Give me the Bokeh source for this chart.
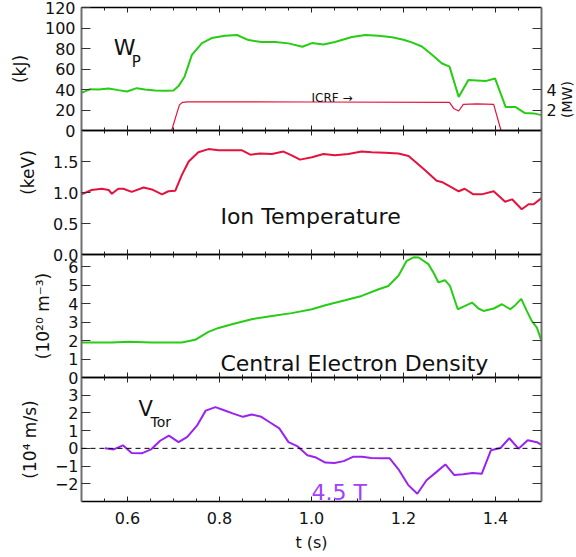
from math import pi
from bokeh.plotting import figure
from bokeh.models import (Range1d, LinearAxis, FixedTicker, SingleIntervalTicker,
                          PrintfTickFormatter, Label, Span, CustomLabelingPolicy)
from bokeh.layouts import column
from bokeh.embed import file_html
from bokeh.resources import INLINE

# ---------------- data ----------------
t_wp = [0.500, 0.519, 0.537, 0.559, 0.580, 0.599, 0.620, 0.638, 0.660, 0.682,
        0.700, 0.711, 0.724, 0.740, 0.762, 0.783, 0.812, 0.838, 0.863, 0.892,
        0.921, 0.950, 0.980, 1.001, 1.026, 1.051, 1.088, 1.117, 1.146, 1.175,
        1.200, 1.218, 1.240, 1.262, 1.283, 1.300, 1.320, 1.341, 1.378, 1.399,
        1.422, 1.443, 1.464, 1.483, 1.500]
wp = [36.7, 40.3, 40.0, 41.0, 39.4, 38.0, 41.3, 40.0, 39.0, 38.7,
      39.0, 43.3, 52.5, 73.8, 85.3, 90.2, 92.5, 93.2, 88.2, 86.3,
      86.3, 85.0, 81.7, 85.3, 84.0, 86.3, 91.2, 93.2, 92.5, 90.9,
      88.6, 86.0, 82.0, 73.8, 65.6, 62.3, 32.8, 49.2, 48.2, 50.8,
      23.0, 23.0, 17.0, 16.7, 15.0]

t_icrf = [0.500, 0.696, 0.706, 0.713, 0.720, 0.730, 1.000, 1.300, 1.309, 1.320,
          1.330, 1.360, 1.396, 1.412, 1.500]
icrf = [0.0, 0.0, 1.5, 2.5, 2.75, 2.80, 2.78, 2.74, 2.15, 1.90,
        2.55, 2.60, 2.55, 0.0, 0.0]

t_ti = [0.500, 0.522, 0.544, 0.559, 0.566, 0.580, 0.591, 0.609, 0.635, 0.653,
        0.675, 0.689, 0.704, 0.718, 0.733, 0.754, 0.776, 0.798, 0.827, 0.849,
        0.867, 0.888, 0.914, 0.939, 0.957, 0.975, 1.001, 1.026, 1.051, 1.080,
        1.109, 1.131, 1.160, 1.189, 1.211, 1.225, 1.247, 1.272, 1.283, 1.298,
        1.320, 1.333, 1.352, 1.370, 1.396, 1.421, 1.436, 1.457, 1.472, 1.483,
        1.500]
ti = [0.97, 1.04, 1.06, 1.04, 0.98, 1.06, 1.06, 1.01, 1.08, 1.05,
      0.97, 1.02, 1.03, 1.28, 1.50, 1.65, 1.70, 1.68, 1.68, 1.68,
      1.61, 1.63, 1.62, 1.66, 1.60, 1.53, 1.57, 1.62, 1.60, 1.62,
      1.66, 1.65, 1.64, 1.63, 1.59, 1.50, 1.36, 1.19, 1.17, 1.11,
      1.02, 1.06, 0.97, 0.97, 1.02, 0.85, 0.89, 0.73, 0.81, 0.81,
      0.91]

t_ne = [0.500, 0.566, 0.602, 0.653, 0.696, 0.718, 0.747, 0.776, 0.798, 0.827,
        0.870, 0.914, 0.957, 1.001, 1.030, 1.073, 1.109, 1.146, 1.167, 1.189,
        1.207, 1.222, 1.233, 1.254, 1.265, 1.276, 1.290, 1.301, 1.318, 1.334,
        1.349, 1.363, 1.374, 1.396, 1.414, 1.432, 1.443, 1.456, 1.468, 1.479,
        1.490, 1.500]
ne = [1.89, 1.89, 1.93, 1.89, 1.89, 1.89, 2.04, 2.47, 2.68, 2.88,
      3.15, 3.33, 3.48, 3.69, 3.91, 4.18, 4.41, 4.77, 4.95, 5.50,
      6.31, 6.50, 6.49, 6.13, 5.68, 5.14, 5.26, 4.95, 3.69, 3.87,
      4.05, 3.73, 3.60, 3.73, 3.96, 3.69, 3.91, 4.25, 3.60, 3.05,
      2.70, 1.98]

t_v = [0.551, 0.570, 0.590, 0.609, 0.631, 0.651, 0.671, 0.690, 0.711, 0.730,
       0.751, 0.770, 0.791, 0.810, 0.830, 0.851, 0.870, 0.891, 0.910, 0.930,
       0.950, 0.970, 0.991, 1.010, 1.030, 1.050, 1.070, 1.090, 1.110, 1.130,
       1.150, 1.170, 1.190, 1.210, 1.230, 1.250, 1.270, 1.291, 1.310, 1.330,
       1.350, 1.370, 1.390, 1.411, 1.430, 1.450, 1.470, 1.490, 1.500]
vtor = [0.00, -0.06, 0.17, -0.26, -0.28, -0.06, 0.43, 0.72, 0.35, 0.65,
        1.28, 2.13, 2.33, 2.15, 1.96, 1.78, 1.91, 1.78, 1.46, 1.13,
        0.35, 0.11, -0.39, -0.52, -0.80, -0.83, -0.72, -0.48, -0.48, -0.54,
        -0.56, -0.56, -1.22, -2.06, -2.56, -1.80, -1.37, -0.91, -1.50, -1.46,
        -1.39, -1.44, -0.11, 0.02, 0.57, -0.02, 0.46, 0.35, 0.20]

wp_ticks = [0, 20, 40, 60, 80, 100, 120]
mw_ticks = [2, 4, 6, 8, 10]
ti_ticks = [0.0, 0.5, 1.0, 1.5]
ne_ticks = [0, 1, 2, 3, 4, 5, 6]
v_ticks = [-2, -1, 0, 1, 2, 3]

# ---------------- style ----------------
FONT = "DejaVu Sans"
W = 576
FL = 81
FW = 460
FR = W - FL - FW
B = 16            # hidden border above/below each frame (overlapped by neighbours)
GREEN = "#27cc14"
RED = "#e5123c"
PURPLE = "#9a24ee"
TXT = "#111111"

HIDE_JS = """
const ids = [...indices];
for (const i of ids) indices.unset(i);
return indices;
"""
KEEP2_JS = """
const ids = [...indices];
for (const i of ids) { if (i > 1) indices.unset(i); }
return indices;
"""


def style_x(ax, labels=False):
    ax.major_tick_in = 5
    ax.major_tick_out = 0
    ax.minor_tick_in = 3
    ax.minor_tick_out = 0
    ax.axis_line_color = "black"
    ax.axis_line_width = 1.5
    ax.major_tick_line_color = "#222222"
    ax.minor_tick_line_color = "#222222"
    if labels:
        ax.major_label_text_font = FONT
        ax.major_label_text_font_size = "16px"
        ax.major_label_text_color = TXT
        ax.major_label_standoff = 10
    else:
        ax.major_label_text_font_size = "8px"
        ax.major_label_standoff = 0
        ax.major_label_policy = CustomLabelingPolicy(code=HIDE_JS)


def style_y(ax, labels=True, standoff=4, hidden_size="8px"):
    ax.major_tick_in = 9
    ax.major_tick_out = 0
    ax.minor_tick_line_color = None
    ax.axis_line_color = "#6e6e6e"
    ax.axis_line_width = 2
    ax.major_tick_line_color = "#333333"
    ax.major_label_text_font = FONT
    ax.major_label_text_font_size = "16px"
    ax.major_label_text_color = TXT
    ax.major_label_standoff = standoff
    if not labels:
        ax.major_label_text_font_size = hidden_size
        ax.major_label_standoff = 0
        ax.major_label_policy = CustomLabelingPolicy(code=HIDE_JS)
    ax.axis_label_text_font = FONT
    ax.axis_label_text_font_size = "17px"
    ax.axis_label_text_font_style = "normal"
    ax.axis_label_text_color = TXT
    ax.axis_label_standoff = 12


def make_fig(frame_h, y0, y1, bottom=B, top_margin=-2 * B, xlabels=False):
    p = figure(width=W, height=B + frame_h + bottom, x_range=Range1d(0.5, 1.5),
               y_range=Range1d(y0, y1), x_axis_type=None, y_axis_type=None,
               output_backend="svg", toolbar_location=None,
               min_border_left=FL, min_border_right=FR,
               min_border_top=B, min_border_bottom=bottom,
               margin=(top_margin, 0, 0, 0))
    p.outline_line_color = None
    p.border_fill_color = None
    p.background_fill_color = None
    ab = LinearAxis(ticker=SingleIntervalTicker(interval=0.2, num_minor_ticks=4),
                    formatter=PrintfTickFormatter(format="%.1f"))
    style_x(ab, False)
    p.add_layout(ab, "above")
    be = LinearAxis(ticker=SingleIntervalTicker(interval=0.2, num_minor_ticks=4),
                    formatter=PrintfTickFormatter(format="%.1f"))
    style_x(be, xlabels)
    if xlabels:
        be.axis_label = "t (s)"
        be.axis_label_text_font = FONT
        be.axis_label_text_font_size = "16px"
        be.axis_label_text_font_style = "normal"
        be.axis_label_text_color = TXT
        be.axis_label_standoff = 6
    p.add_layout(be, "below")
    return p


def add_left(p, ticks, fmt=None, label=None, overrides=None, standoff=4):
    left = LinearAxis(ticker=FixedTicker(ticks=ticks))
    if fmt:
        left.formatter = PrintfTickFormatter(format=fmt)
    style_y(left, True, standoff)
    if label:
        left.axis_label = label
    if overrides:
        left.major_label_overrides = overrides
    p.add_layout(left, "left")


def add_right_plain(p, ticks, hidden_size="8px"):
    right = LinearAxis(ticker=FixedTicker(ticks=ticks))
    style_y(right, False, hidden_size=hidden_size)
    p.add_layout(right, "right")


def title_fig(text, w, h, top_margin, left_margin, size):
    """Small transparent canvas carrying a rotated axis title at a free position."""
    f = figure(width=w, height=h, x_range=Range1d(0, 1), y_range=Range1d(0, 1),
               x_axis_type=None, y_axis_type=None, output_backend="svg",
               toolbar_location=None, min_border=0,
               margin=(top_margin, 0, 0, left_margin))
    if "frame_align" in f.properties():
        f.frame_align = False
    f.outline_line_color = None
    f.border_fill_color = None
    f.background_fill_color = None
    f.add_layout(Label(x=0.5, y=0.5, text=text, angle=pi / 2, text_font=FONT,
                       text_font_size=size, text_color=TXT, text_align="center",
                       text_baseline="middle"))
    return f


# ---------------- panel 1: stored energy + ICRF ----------------
p1 = make_fig(123, 0, 120, top_margin=-(B - 7))          # canvas -9 .. 146
add_left(p1, wp_ticks, label="(kJ)", standoff=6)
p1.extra_y_ranges = {"mw": Range1d(0, 12)}
mw_ax = LinearAxis(y_range_name="mw", ticker=FixedTicker(ticks=mw_ticks))
style_y(mw_ax, True, 5)
mw_ax.major_label_overrides = {6: "", 8: "", 10: ""}
mw_ax.major_label_policy = CustomLabelingPolicy(code=KEEP2_JS)
p1.add_layout(mw_ax, "right")
p1.line(t_icrf, icrf, y_range_name="mw", line_color=RED, line_width=1.2)
p1.line(t_wp, wp, line_color=GREEN, line_width=2)
p1.add_layout(Label(x=0.57, y=80.5, text="W", text_font=FONT, text_font_size="22px",
                    text_color=TXT, text_baseline="alphabetic"))
p1.add_layout(Label(x=0.609, y=67, text="P", text_font=FONT, text_font_size="15px",
                    text_color=TXT, text_baseline="alphabetic"))
p1.add_layout(Label(x=1.0, y=31.5, text="ICRF  \u2192", text_font=FONT, text_font_size="12px",
                    text_color=TXT, text_baseline="alphabetic"))

# (MW) title on the right of panel 1: canvas 77 .. 121
t_mw = title_fig("(MW)", 20, 44, 77 - 146, 556, "14px")

# ---------------- panel 2: ion temperature ----------------
p2 = make_fig(124, 0, 2.0, top_margin=114 - 121)         # canvas 114 .. 270
add_left(p2, ti_ticks, fmt="%.1f", standoff=3)
add_right_plain(p2, ti_ticks)
p2.line(t_ti, ti, line_color=RED, line_width=2)
p2.add_layout(Label(x=0.802, y=0.61, text="Ion Temperature", text_font=FONT,
                    text_font_size="22px", text_color=TXT, text_baseline="alphabetic"))

# (keV) title on the left of panel 2: canvas 150 .. 194
t_kev = title_fig("(keV)", 24, 44, 150 - 270, 15, "17px")

# ---------------- panel 3: central electron density ----------------
p3 = make_fig(123, 0, 6.65, top_margin=238 - 194)        # canvas 238 .. 393
add_left(p3, ne_ticks, label="(10\u00b2\u2070 m\u207b\u00b3)", standoff=3)
add_right_plain(p3, ne_ticks)
p3.line(t_ne, ne, line_color=GREEN, line_width=2)
p3.add_layout(Label(x=0.802, y=0.76, text="Central Electron Density", text_font=FONT,
                    text_font_size="22px", text_color=TXT, text_baseline="alphabetic"))

# ---------------- panel 4: toroidal velocity ----------------
p4 = make_fig(124, -3, 4, bottom=56, xlabels=True)      # canvas 361 .. 557
add_left(p4, v_ticks, label="(10\u2074 m/s)", overrides={-2: "\u22122", -1: "\u22121"},
         standoff=3)
add_right_plain(p4, v_ticks)
p4.add_layout(Span(location=0, dimension="width", line_color="black", line_width=1,
                   line_dash="5 4"))
p4.line(t_v, vtor, line_color=PURPLE, line_width=2)
p4.add_layout(Label(x=0.624, y=2.22, text="V", text_font=FONT, text_font_size="21px",
                    text_color=TXT, text_baseline="alphabetic"))
p4.add_layout(Label(x=0.65, y=1.5, text="Tor", text_font=FONT, text_font_size="14px",
                    text_color=TXT, text_baseline="alphabetic"))
p4.add_layout(Label(x=1.0, y=-2.5, text="4.5 T", text_font=FONT, text_font_size="22px",
                    text_color="#a140ff", text_baseline="alphabetic"))

layout = column(p1, t_mw, p2, t_kev, p3, p4, spacing=0)
open("out.html", "w").write(file_html(layout, INLINE))
